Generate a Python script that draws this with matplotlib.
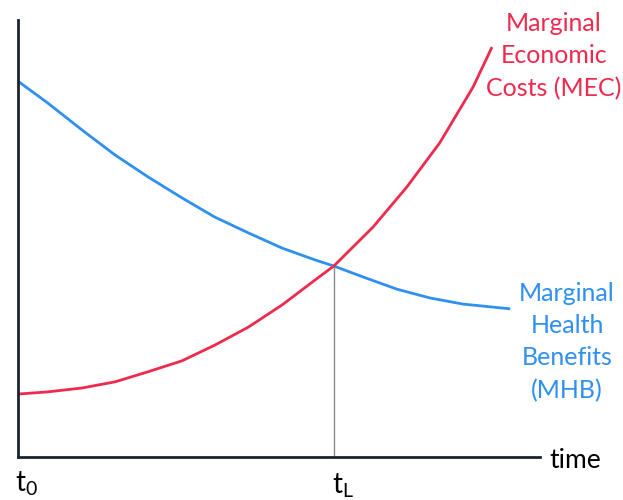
import matplotlib
matplotlib.use("Agg")
import matplotlib.pyplot as plt

# Marginal Health Benefits (blue)
mhb_x = [0.0, 0.57, 1.23, 1.86, 2.49, 3.14, 3.77, 4.41, 5.06, 5.69, 6.05,
         6.61, 7.26, 7.89, 8.52, 9.43]
mhb_y = [8.60, 8.10, 7.48, 6.91, 6.41, 5.93, 5.49, 5.13, 4.78, 4.51, 4.37,
         4.12, 3.84, 3.64, 3.50, 3.39]

# Marginal Economic Costs (red)
mec_x = [0.0, 0.57, 1.23, 1.86, 2.49, 3.14, 3.77, 4.41, 5.06, 5.69, 6.05,
         6.80, 7.45, 8.08, 8.72, 9.08]
mec_y = [1.44, 1.49, 1.58, 1.72, 1.95, 2.20, 2.56, 2.97, 3.48, 4.05, 4.37,
         5.26, 6.18, 7.19, 8.47, 9.38]

t_L = 6.05
t_L_y = 4.37

mec_label = "Marginal\nEconomic\nCosts (MEC)"
mhb_label = "Marginal\nHealth\nBenefits\n(MHB)"

RED = "#EE2A4E"
BLUE = "#2E90F0"
FONT = "Lato"

plt.rcParams['font.family'] = [FONT, 'DejaVu Sans']
plt.rcParams['mathtext.fontset'] = 'custom'
plt.rcParams['mathtext.rm'] = FONT
plt.rcParams['mathtext.it'] = FONT

fig = plt.figure(figsize=(6.23, 5.0), dpi=100)
W, H = 623, 500
ax = fig.add_axes([18 / W, (H - 457) / H, 522 / W, 437 / H])
ax.set_xlim(0, 10)
ax.set_ylim(0, 10)
for s in ['top', 'right']:
    ax.spines[s].set_visible(False)
for s in ['left', 'bottom']:
    ax.spines[s].set_linewidth(2.0)
    ax.spines[s].set_color('#1b2430')
ax.set_xticks([])
ax.set_yticks([])
ax.patch.set_alpha(0)

ax.plot(mhb_x, mhb_y, color=BLUE, lw=2.0, solid_capstyle='butt', solid_joinstyle='round')
ax.plot(mec_x, mec_y, color=RED, lw=2.0, solid_capstyle='butt', solid_joinstyle='round')
ax.plot([t_L, t_L], [0, t_L_y], color='#8a8a8a', lw=1.0, zorder=1)

def fx(px):
    return px / W

def fy(py):
    return 1 - py / H

fig.text(fx(554), fy(56), mec_label, color=RED, fontsize=18, ha='center', va='center',
         linespacing=1.48)
fig.text(fx(567), fy(342), mhb_label, color=BLUE, fontsize=18, ha='center', va='center',
         linespacing=1.48)
fig.text(fx(549), fy(460), "time", color='black', fontsize=19, ha='left', va='center')
fig.text(fx(15), fy(484), r"$\mathrm{t_0}$", color='black', fontsize=20, ha='left', va='center')
fig.text(fx(332), fy(486), r"$\mathrm{t_L}$", color='black', fontsize=20, ha='left', va='center')

fig.savefig("out.png", dpi=100)
